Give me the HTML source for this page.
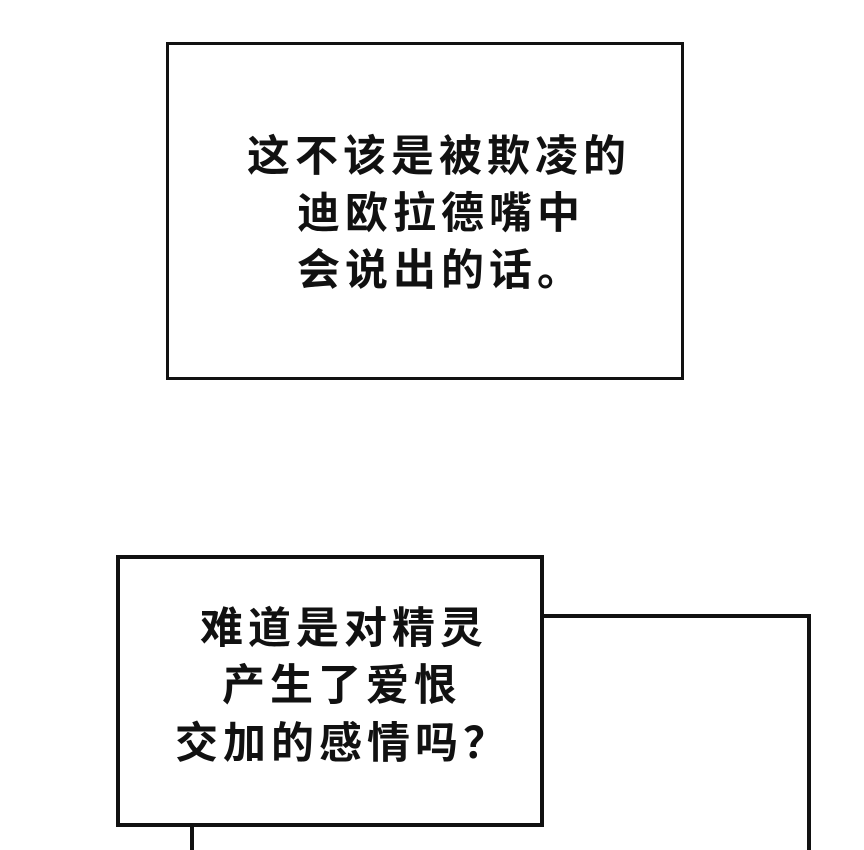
<!DOCTYPE html>
<html><head><meta charset="utf-8"><style>
html,body{margin:0;width:864px;height:850px;overflow:hidden;}
body{background:#fff;position:relative;font-family:"Liberation Sans","Noto Sans CJK SC",sans-serif;}
.b{position:absolute;border:3px solid #111;background:#fff;box-sizing:border-box;}
.t{position:absolute;font-size:43px;font-weight:bold;letter-spacing:5px;line-height:1;white-space:nowrap;color:#111;}
</style></head><body>
<div class="b" style="left:166px;top:42px;width:518px;height:338px"></div>
<div class="t" style="left:247px;top:136px">这不该是被欺凌的</div>
<div class="t" style="left:297px;top:193px">迪欧拉德嘴中</div>
<div class="t" style="left:297px;top:250px">会说出的话。</div>

<div class="b" style="left:538px;top:614px;width:273px;height:236px;border-width:4px;border-bottom:none"></div>
<div class="b" style="left:190px;top:800px;width:400px;height:50px;border-width:4px;border-right:none;border-top:none;border-bottom:none"></div>
<div class="b" style="left:116px;top:555px;width:428px;height:272px;border-width:4px"></div>
<div class="t" style="left:200px;top:608px">难道是对精灵</div>
<div class="t" style="left:222px;top:665px">产生了爱恨</div>
<div class="t" style="left:175px;top:723px">交加的感情吗？</div>
</body></html>
